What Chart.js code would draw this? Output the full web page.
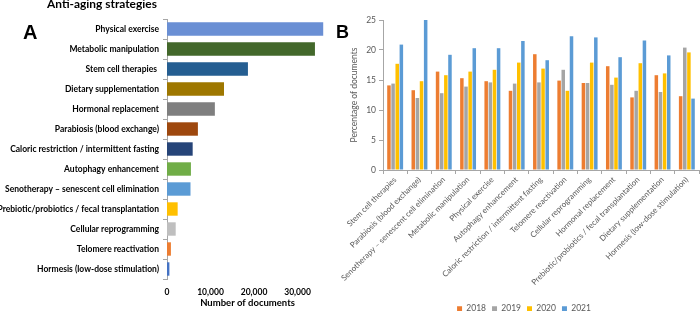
<!DOCTYPE html>
<html>
<head>
  <title>Anti-aging strategies</title>
  <script src="https://cdn.jsdelivr.net/npm/chart.js@4"></script>
  <style>
    body {
      margin: 0;
      background: #fff;
      font-family: Lato, 'Liberation Sans', sans-serif;
    }

    .page {
      position: relative;
      width: 700px;
      height: 311px;
      overflow: hidden;
    }

    .panel {
      position: absolute;
      top: 0;
      height: 311px;
    }

    #panelA { left: 0; width: 335px; }
    #panelB { left: 330px; width: 370px; }

    .letter {
      position: absolute;
      font-family: 'Liberation Sans', Arial, sans-serif;
      font-weight: bold;
      line-height: 1;
      color: #000;
    }

    .heading {
      position: absolute;
      left: 47px;
      top: -2px;
      font-family: Lato, sans-serif;
      font-weight: bold;
      font-size: 12px;
      line-height: 1;
      color: #000;
      white-space: nowrap;
    }
  </style>
</head>
<body>
  <div class="page">
    <div class="panel" id="panelA"><canvas id="chartA"></canvas></div>
    <div class="panel" id="panelB"><canvas id="chartB"></canvas></div>
    <div class="heading" id="heading">Anti-aging strategies</div>
    <div class="letter" style="left:23px; top:22px; font-size:20px;">A</div>
    <div class="letter" style="left:336px; top:23px; font-size:18px;">B</div>
  </div>

  <script>
    // Panel A: total documents per strategy
    const strategies = [
      'Physical exercise',
      'Metabolic manipulation',
      'Stem cell therapies ',
      'Dietary supplementation',
      'Hormonal replacement',
      'Parabiosis (blood exchange)',
      'Caloric restriction / intermittent fasting',
      'Autophagy enhancement',
      'Senotherapy \u2013 senescent cell elimination',
      'Prebiotic/probiotics / fecal transplantation',
      'Cellular reprogramming',
      'Telomere reactivation',
      'Hormesis (low-dose stimulation)'
    ];
    const documents = [35900, 34000, 18600, 13100, 11000, 7100, 5900, 5500, 5400, 2450, 2000, 900, 550];
    const strategyColors = [
      '#6a8fd4', '#43682b', '#255e91', '#9e7700', '#7f7f7f', '#9e480e', '#264478',
      '#70ad47', '#5b9bd5', '#ffc000', '#bfbfbf', '#ed7d31', '#4472c4'
    ];
    const documentTicks = [0, 10000, 20000, 30000];

    // Panel B: share of documents per year
    const yearCategories = [
      'Stem cell therapies',
      'Parabiosis (blood exchange)',
      'Senotherapy \u2013 senescent cell elimination',
      'Metabolic manipulation',
      'Physical exercise',
      'Autophagy enhancement',
      'Caloric restriction / intermittent fasting',
      'Telomere reactivation',
      'Cellular reprogramming',
      'Hormonal replacement',
      'Prebiotic/probiotics / fecal transplantation',
      'Dietary supplementation',
      'Hormesis (low-dose stimulation)'
    ];
    const years = ['2018', '2019', '2020', '2021'];
    const pct2018 = [14.1, 13.3, 16.4, 15.3, 14.8, 13.2, 19.3, 14.9, 14.5, 17.3, 12.1, 15.8, 12.3];
    const pct2019 = [14.4, 12.0, 12.8, 13.9, 14.6, 14.4, 14.6, 16.7, 14.5, 14.2, 13.2, 13.0, 20.4];
    const pct2020 = [17.7, 14.8, 15.8, 16.4, 16.7, 17.9, 16.9, 13.2, 17.9, 15.4, 17.8, 16.1, 19.6];
    const pct2021 = [20.9, 25.0, 19.2, 20.3, 20.3, 21.5, 18.3, 22.3, 22.1, 18.8, 21.6, 19.1, 11.9];
    const yearColors = ['#ed7d31', '#a5a5a5', '#ffc000', '#5b9bd5'];

    const axisGray = '#a6a6a6';
    const textGray = '#595959';

    // size the heading so it spans ~110px, baseline at ~8.5px
    (function fitHeading() {
      const el = document.getElementById('heading');
      const ctx = document.createElement('canvas').getContext('2d');
      ctx.font = 'bold 100px Lato';
      const w = ctx.measureText(el.textContent).width;
      const size = 100 * 110 / w;
      el.style.fontSize = size.toFixed(2) + 'px';
      el.style.top = (8.5 - 0.887 * size).toFixed(2) + 'px';
    })();

    new Chart(document.getElementById('chartA'), {
      type: 'bar',
      data: {
        labels: strategies,
        datasets: [{
          data: documents,
          backgroundColor: strategyColors,
          borderWidth: 0,
          categoryPercentage: 0.67,
          barPercentage: 1
        }]
      },
      options: {
        indexAxis: 'y',
        responsive: true,
        maintainAspectRatio: false,
        animation: false,
        layout: { padding: { top: 19, right: 7, left: 0, bottom: 0 } },
        plugins: { legend: { display: false }, tooltip: { enabled: false } },
        scales: {
          y: {
            afterFit: (s) => { s.width = 167; },
            grid: { drawOnChartArea: false, tickLength: 4, color: axisGray },
            border: { color: axisGray },
            ticks: {
              autoSkip: false,
              padding: 4,
              color: '#000',
              font: { family: 'Lato', weight: 'bold', size: 8.5 }
            }
          },
          x: {
            min: 0,
            max: 37000,
            afterFit: (s) => { s.height = 32; },
            // the axis stops short of 40,000, so set the labelled ticks by hand
            afterBuildTicks: (axis) => {
              axis.ticks = documentTicks.map(v => ({ value: v }));
            },
            grid: { display: false, drawTicks: false },
            border: { display: false },
            ticks: {
              autoSkip: false,
              padding: 8,
              color: '#000',
              font: { family: 'Lato', weight: 'bold', size: 8.5 },
              callback: (v) => v.toLocaleString('en-US')
            },
            title: {
              display: true,
              text: 'Number of documents',
              color: '#000',
              padding: { top: 0, bottom: 2 },
              font: { family: 'Lato', weight: 'bold', size: 9.5 }
            }
          }
        }
      }
    });

    const padBottomB = -12;

    new Chart(document.getElementById('chartB'), {
      type: 'bar',
      data: {
        labels: yearCategories,
        datasets: [pct2018, pct2019, pct2020, pct2021].map((values, i) => ({
          label: years[i],
          data: values,
          backgroundColor: yearColors[i],
          borderWidth: 0,
          categoryPercentage: 0.68,
          barPercentage: 0.85
        }))
      },
      options: {
        responsive: true,
        maintainAspectRatio: false,
        animation: false,
        layout: { padding: { top: 20, right: 1, left: 19, bottom: padBottomB } },
        plugins: {
          tooltip: { enabled: false },
          legend: {
            position: 'bottom',
            labels: {
              boxWidth: 5,
              boxHeight: 5,
              padding: 6,
              color: textGray,
              font: { family: 'Lato', size: 8.5 }
            }
          }
        },
        scales: {
          y: {
            min: 0,
            max: 25,
            afterFit: (s) => { s.width = 34; },
            grid: { drawOnChartArea: false, tickLength: 4, color: axisGray },
            border: { color: axisGray },
            ticks: {
              stepSize: 5,
              padding: 3,
              color: textGray,
              font: { family: 'Lato', size: 8.5 }
            },
            title: {
              display: true,
              text: 'Percentage of documents',
              color: textGray,
              padding: { top: 0, bottom: 0 },
              font: { family: 'Lato', size: 8.5 }
            }
          },
          x: {
            afterFit: (s) => {
              s.height = s.chart.height - padBottomB - 170 - s.chart.legend.height;
            },
            grid: { drawOnChartArea: false, tickLength: 4, color: axisGray },
            border: { color: axisGray },
            ticks: {
              autoSkip: false,
              minRotation: 45,
              maxRotation: 45,
              padding: 1,
              color: textGray,
              font: { family: 'Lato', size: 8 }
            }
          }
        }
      }
    });
  </script>
</body>
</html>
